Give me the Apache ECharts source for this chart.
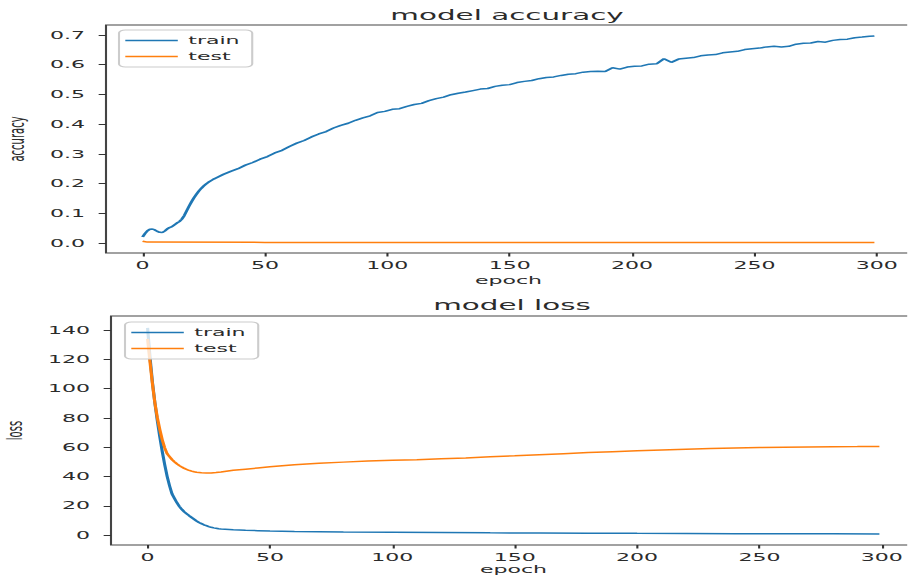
<!DOCTYPE html>
<html>
<head>
<meta charset="utf-8">
<script src="https://cdn.jsdelivr.net/npm/echarts@6/dist/echarts.min.js"></script>
<style>
  html, body { margin: 0; padding: 0; background: #fff; overflow: hidden; }
  #wrap { width: 432.38px; height: 575px; transform: scaleX(2.1); transform-origin: 0 0; }
</style>
</head>
<body>
<div id="wrap"></div>
<script>
// ---- training history ----
const accTrainEpoch = [0,1,2,3,4,5,6,7,8,9,10,11,12,13,14,15,16,17,18,19,20,21,22,23,24,25,26,27,28,29,30,
  33,36,39,42,45,48,51,54,57,60,63,66,69,72,75,78,81,84,87,90,93,96,99,102,105,108,111,114,117,120,
  123,126,129,132,135,138,141,144,147,150,153,156,159,162,165,168,171,174,177,180,183,186,189,192,195,198,
  201,204,207,210,213,216,219,222,225,228,231,234,237,240,243,246,249,252,255,258,261,264,267,270,273,276,
  279,282,285,288,291,294,297,299];
const accTrain = [0.020,0.032,0.041,0.046,0.047,0.044,0.039,0.036,0.035,0.040,0.047,0.052,0.055,0.061,0.067,0.072,0.080,0.092,0.108,0.124,0.139,0.152,0.164,0.175,0.184,0.192,0.199,0.205,0.210,0.215,0.219,
  0.231,0.241,0.250,0.262,0.271,0.282,0.291,0.303,0.312,0.325,0.336,0.345,0.357,0.367,0.375,0.387,0.396,0.403,0.413,0.421,0.428,0.439,0.443,0.450,0.452,0.460,0.466,0.470,0.479,0.486,
  0.491,0.499,0.504,0.508,0.513,0.518,0.520,0.527,0.531,0.533,0.540,0.544,0.547,0.553,0.557,0.559,0.564,0.568,0.570,0.575,0.577,0.578,0.577,0.590,0.585,0.592,
  0.595,0.596,0.602,0.603,0.620,0.608,0.619,0.622,0.624,0.630,0.633,0.634,0.640,0.643,0.645,0.651,0.654,0.656,0.660,0.662,0.660,0.662,0.669,0.672,0.673,0.678,
  0.676,0.682,0.685,0.686,0.691,0.693,0.696,0.697];

const accTestEpoch = [0,2,50,100,150,200,250,299];
const accTest = [0.006,0.003,0.002,0.002,0.002,0.002,0.002,0.002];

const lossTrainEpoch = [0,1,2,3,4,5,6,7,8,9,10,11,12,13,14,15,16,17,18,19,20,21,22,23,24,25,26,27,28,29,30,
  35,40,45,50,60,70,80,100,120,140,160,180,200,220,240,260,280,299];
const lossTrain = [141.5,121,104,90,78,67,57,48,40,33.5,28,25,22,19.5,17.5,15.8,14.5,13.2,12,10.8,9.6,8.6,7.8,7,6.4,5.8,5.3,4.9,4.6,4.3,4.1,
  3.6,3.2,3.0,2.8,2.5,2.3,2.1,1.9,1.7,1.5,1.4,1.3,1.15,1.05,0.95,0.9,0.82,0.75];

const lossTestEpoch = [0,1,2,3,4,5,6,7,8,9,10,11,12,13,14,15,16,17,18,19,20,22,24,26,28,30,
  35,40,45,50,60,70,80,90,100,110,120,130,140,150,160,170,180,190,200,210,220,230,240,250,260,270,280,290,299];
const lossTest = [134,118,103,90,80,72,65,59.5,55.5,53.5,51.5,50,48.6,47.4,46.4,45.5,44.8,44.1,43.6,43.2,42.9,42.5,42.3,42.4,42.7,43.1,
  44.2,45.0,45.8,46.6,48.0,49.0,49.8,50.5,51.0,51.5,52.1,52.7,53.4,54.1,54.9,55.6,56.3,56.9,57.5,58.1,58.6,59.1,59.5,59.8,60.0,60.2,60.3,60.4,60.5];

const epochTicks = [0, 50, 100, 150, 200, 250, 300];
const accTicks = [0.0, 0.1, 0.2, 0.3, 0.4, 0.5, 0.6, 0.7];
const lossTicks = [0, 20, 40, 60, 80, 100, 120, 140];

// ---- layout helpers (the page is drawn narrow and widened by CSS) ----
const SX = 2.1;
const px = v => v / SX;
const FONT = 'DejaVu Sans';
const TXT = '#2b2b2b';
const BLUE = '#1f77b4';
const ORANGE = '#ff7f0e';

const pairs = (xs, ys) => xs.map((x, i) => [x, ys[i]]);

function xAxisFor(gridIndex, nameGap) {
  return {
    type: 'value', gridIndex, min: -14.95, max: 313.95,
    name: 'epoch', nameLocation: 'middle', nameGap,
    nameTextStyle: { fontFamily: FONT, fontSize: 10.5, color: TXT },
    axisLine: { show: false, onZero: false },
    splitLine: { show: false },
    axisTick: { show: true, length: 3.5, customValues: epochTicks, lineStyle: { color: '#333', width: 1 } },
    axisLabel: { customValues: epochTicks, margin: 7, fontFamily: FONT, fontSize: 10.5, color: TXT }
  };
}
function yAxisFor(gridIndex, name, min, max, ticks, fmt) {
  return {
    type: 'value', gridIndex, min, max,
    name, nameLocation: 'middle', nameGap: 32, nameRotate: 90,
    nameTextStyle: { fontFamily: FONT, fontSize: 10, color: TXT },
    axisLine: { show: false, onZero: false },
    splitLine: { show: false },
    axisTick: { show: true, length: 3.5, customValues: ticks, lineStyle: { color: '#333', width: 1 } },
    axisLabel: { customValues: ticks, margin: 10, fontFamily: FONT, fontSize: 10.5, color: TXT, formatter: fmt }
  };
}
function legendAt(left, top) {
  return {
    left, top, orient: 'vertical',
    data: [{ name: 'train', icon: 'rect' }, { name: 'test', icon: 'rect' }],
    itemWidth: 25, itemHeight: 1.6, itemGap: 3,
    padding: [4, 6, 4, 3],
    borderColor: '#cccccc', borderWidth: 1, borderRadius: 3,
    backgroundColor: 'rgba(255,255,255,0.8)',
    textStyle: { fontFamily: FONT, fontSize: 10.5, color: TXT, lineHeight: 13 }
  };
}
function lineSeries(name, color, xi, yi, data) {
  return {
    type: 'line', name, xAxisIndex: xi, yAxisIndex: yi, data,
    symbol: 'none', smooth: false,
    lineStyle: { color, width: 1.5 }, itemStyle: { color }
  };
}

const chart = echarts.init(document.getElementById('wrap'), null, { renderer: 'svg', width: 908 / SX, height: 575 });
chart.setOption({
  animation: false,
  backgroundColor: '#ffffff',
  title: [
    { text: 'model accuracy', left: px(507), top: 8, textAlign: 'center', padding: 0,
      textStyle: { fontFamily: FONT, fontSize: 14, fontWeight: 'normal', color: TXT } },
    { text: 'model loss', left: px(512), top: 298, textAlign: 'center', padding: 0,
      textStyle: { fontFamily: FONT, fontSize: 14, fontWeight: 'normal', color: TXT } }
  ],
  legend: [legendAt(px(119), 30), legendAt(px(125), 322)],
  grid: [
    { left: px(106), top: 25, width: px(805), height: 228, show: true, borderColor: '#444', borderWidth: 1,
      containLabel: false, outerBoundsMode: 'none' },
    { left: px(111), top: 316, width: px(805), height: 229, show: true, borderColor: '#444', borderWidth: 1,
      containLabel: false, outerBoundsMode: 'none' }
  ],
  xAxis: [xAxisFor(0, 22), xAxisFor(1, 17)],
  yAxis: [
    yAxisFor(0, 'accuracy', -0.0337, 0.7337, accTicks, v => v.toFixed(1)),
    yAxisFor(1, 'loss', -6.8, 149.6, lossTicks, v => String(Math.round(v)))
  ],
  series: [
    lineSeries('train', BLUE, 0, 0, pairs(accTrainEpoch, accTrain)),
    lineSeries('test', ORANGE, 0, 0, pairs(accTestEpoch, accTest)),
    lineSeries('train', BLUE, 1, 1, pairs(lossTrainEpoch, lossTrain)),
    lineSeries('test', ORANGE, 1, 1, pairs(lossTestEpoch, lossTest))
  ]
});
</script>
</body>
</html>
